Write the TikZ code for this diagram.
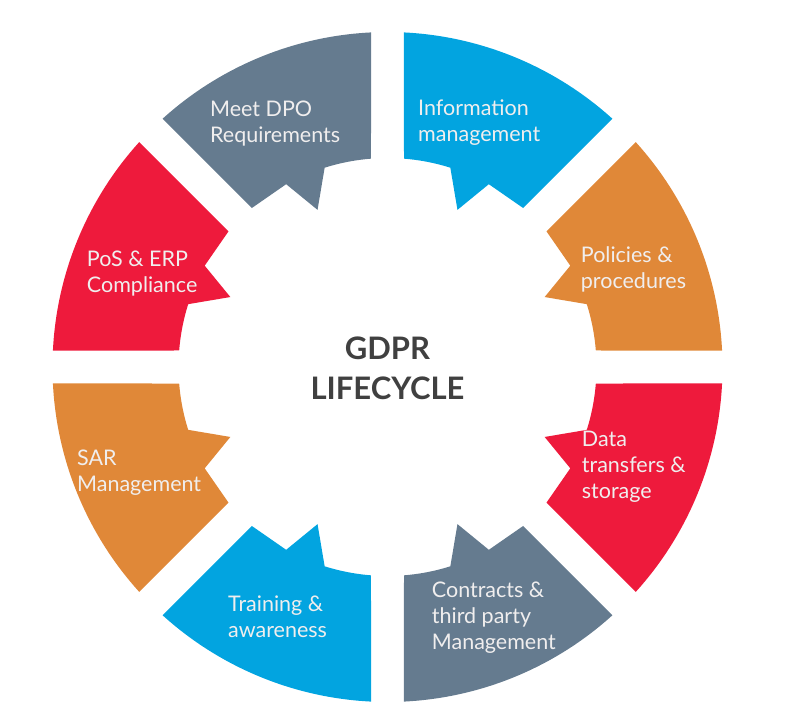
\documentclass[tikz,border=0pt]{standalone}
\usepackage{fontspec}
\setmainfont{Lato}
\usepackage{tikz}
\usetikzlibrary{positioning}

\definecolor{gslate}{HTML}{657B8F}
\definecolor{gblue}{HTML}{02A4E0}
\definecolor{gorange}{HTML}{E08838}
\definecolor{gred}{HTML}{EE1A3C}
\definecolor{glabel}{HTML}{F0EEEE}
\definecolor{gtitle}{HTML}{404040}

\begin{document}
\begin{tikzpicture}[x=1pt,y=1pt,
  ringpart/.style={insert path={(92.82:335) arc[start angle=92.82,end angle=132.18,radius=335]
      -- (130.47:209) -- (119:209) -- (114:172) -- (107.5:209)
      arc[start angle=107.5,end angle=94.53,radius=209] -- cycle}},
  lbl/.style={font=\fontsize{21.5}{26}\selectfont,text=glabel,align=left,anchor=base west,inner sep=0pt},
  ttl/.style={font=\fontsize{31}{40}\selectfont\bfseries,text=gtitle,align=center,anchor=base,inner sep=0pt}]
\useasboundingbox (-387.5,-354) rectangle (424.5,367);
\fill[gslate,ringpart];
\fill[gblue,cm={-1,0,0,1,(0,0)},ringpart];
\fill[gred,cm={0,-1,-1,0,(0,0)},ringpart];
\fill[gorange,cm={0,-1,1,0,(0,0)},ringpart];
\fill[gorange,cm={0,1,-1,0,(0,0)},ringpart];
\fill[gred,cm={0,1,1,0,(0,0)},ringpart];
\fill[gblue,cm={1,0,0,-1,(0,0)},ringpart];
\fill[gslate,cm={-1,0,0,-1,(0,0)},ringpart];
\node[lbl] (dpo) at (-177.5,225) {Meet DPO\\Requirements};
\node[lbl] (info) at (30.5,226) {Information\\management};
\node[lbl] (pos) at (-300.8,75) {PoS \& ERP\\Compliance};
\node[lbl] (pol) at (193.2,79) {Policies \&\\procedures};
\node[lbl] (sar) at (-310.5,-124) {SAR\\Management};
\node[lbl] (data) at (194.2,-131) {Data\\transfers \&\\storage};
\node[lbl] (train) at (-159.5,-270.7) {Training \&\\awareness};
\node[lbl] (contr) at (44.2,-282.3) {Contracts \&\\third party\\Management};
\node[ttl] (gdpr) at (0,-32) {GDPR\\LIFECYCLE};
\end{tikzpicture}
\end{document}
